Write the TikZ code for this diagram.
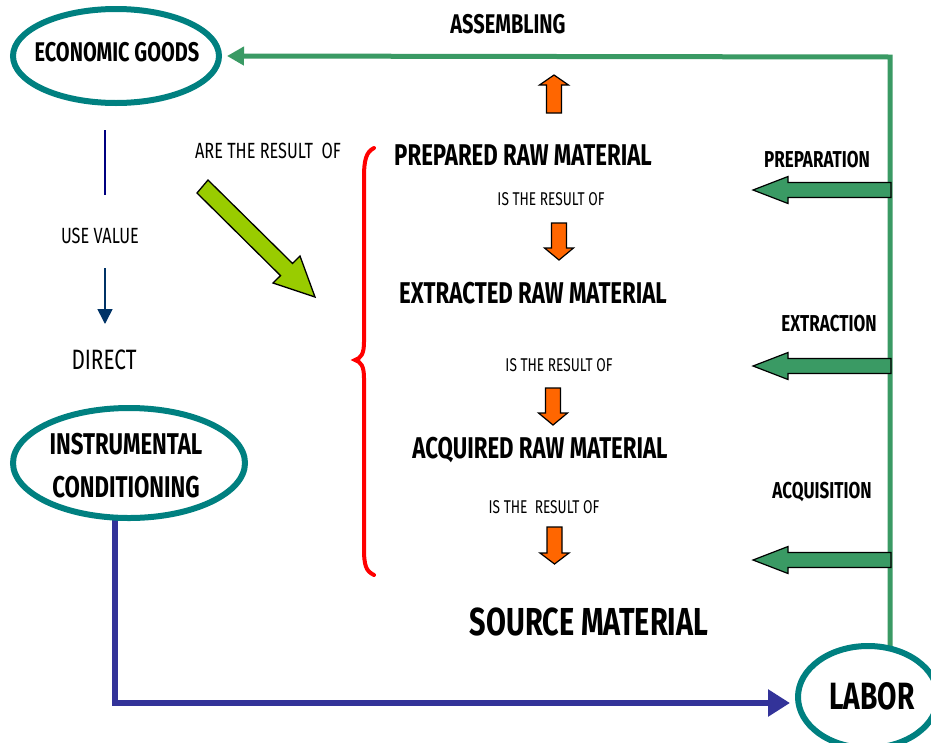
\documentclass[tikz,border=0pt]{standalone}
\usepackage{fontspec}
\setmainfont{Fira Sans}[FakeStretch=0.74]
\usetikzlibrary{arrows.meta,backgrounds,shapes.geometric}
\definecolor{tealc}{RGB}{0,128,128}
\definecolor{gline}{RGB}{58,154,100}
\definecolor{orangec}{RGB}{255,102,0}
\definecolor{ygreen}{RGB}{153,204,0}
\definecolor{bluec}{RGB}{51,51,153}
\definecolor{navyc}{RGB}{0,0,128}
\definecolor{darkbl}{RGB}{0,51,102}
\newcommand\vblock[4]{\draw[oarrow] (#1-7.5,#2) -- (#1+7.5,#2) -- (#1+7.5,#3) -- (#1+14.5,#3) -- (#1,#4) -- (#1-14.5,#3) -- (#1-7.5,#3) -- cycle;}
\newcommand\hblock[1]{\draw[garrow] (891,#1-7.5) -- (788,#1-7.5) -- (788,#1-13.5) -- (753,#1) -- (788,#1+13.5) -- (788,#1+7.5) -- (891,#1+7.5) -- cycle;}
\begin{document}
\begin{tikzpicture}[x=1pt,y=-1pt,
  bigt/.style={font=\bfseries\fontsize{30}{32}\selectfont, inner sep=0pt},
  midt/.style={font=\bfseries\fontsize{23}{25}\selectfont, inner sep=0pt},
  smallt/.style={font=\fontsize{18.5}{20}\selectfont, inner sep=0pt},
  regt/.style={font=\fontsize{22}{24}\selectfont, inner sep=0pt},
  ell/.style={ellipse, draw=tealc, line width=6pt, fill=white, inner sep=0pt},
  oarrow/.style={fill=orangec, draw=black, line width=1.2pt, line join=miter},
  garrow/.style={fill=gline, draw=black, line width=1.2pt, line join=miter},
  glinest/.style={draw=gline, line width=5pt},
  blinest/.style={draw=bluec, line width=6pt},
]
\clip (0,0) rectangle (931,742);

% ellipses
\node[ell, minimum width=206pt, minimum height=94pt] (econ) at (116,56) {};
\node[bigt, font=\bfseries\fontsize{27}{29}\selectfont] (econtxt) at (117,52) {ECONOMIC GOODS};
\node[ell, minimum width=232pt, minimum height=110pt] (instr) at (129,463) {};
\node[bigt] (instr1) at (126,444) {INSTRUMENTAL};
\node[bigt] (instr2) at (126,487) {CONDITIONING};
\node[ell, minimum width=140pt, minimum height=102pt] (labor) at (868,697) {};
\node[bigt, font=\bfseries\fontsize{38}{40}\selectfont] (labortxt) at (872,696) {LABOR};

% connectors behind
\coordinate (gtop) at (890,57);
\coordinate (gbot) at (890,660);
\coordinate (bstart) at (115,505);
\coordinate (btip) at (790,703);
\begin{scope}[on background layer]
\draw[glinest, -{Triangle[length=17pt,width=18pt]}] (gbot) -- (gtop) -- ([xshift=5pt]econ.east);
\draw[blinest, -{Triangle[length=22pt,width=26pt]}] (bstart) |- (btip);
\end{scope}

% top
\node[bigt, font=\bfseries\fontsize{27}{29}\selectfont] (assem) at (508,24) {ASSEMBLING};
\vblock{554}{113}{85}{75}

% left column
\coordinate (nv1) at (105,130);
\coordinate (nv2) at (105,195);
\draw[navyc, line width=2pt] (nv1) -- (nv2);
\node[regt] (usev) at (100,236) {USE VALUE};
\coordinate (nv3) at (105,268);
\coordinate (nv4) at (105,324);
\draw[darkbl, line width=1.6pt, -{Triangle[length=15pt,width=15pt]}] (nv3) -- (nv4);
\node[font=\fontsize{28}{30}\selectfont, inner sep=0pt] (direct) at (104,360) {DIRECT};

% are the result of
\node[regt] (arer) at (268,151) {ARE THE RESULT~ OF};
\draw[fill=ygreen, draw=black, line width=1.3pt, line join=miter]
  (197,193) -- (280.5,275.6) -- (273,283) -- (315,297) -- (300,256) -- (292.5,263.4) -- (208,180) -- cycle;

% red brace
\draw[red, line width=4pt, line cap=round]
  (374,148) .. controls (366,152) and (364,160) .. (364,178) -- (364,342)
  .. controls (364,354) and (361,358) .. (355,360)
  .. controls (361,362) and (364,366) .. (364,378) -- (364,548)
  .. controls (364,566) and (366,571) .. (374,575);

% center column
\node[bigt] (prep) at (523,155) {PREPARED RAW MATERIAL};
\node[smallt] (r1) at (551,199) {IS THE RESULT OF};
\vblock{559}{223}{248}{260}
\node[bigt] (extr) at (533,293) {EXTRACTED RAW MATERIAL};
\node[smallt] (r2) at (559,365) {IS THE RESULT OF};
\vblock{553}{388}{413}{425}
\node[bigt] (acq) at (540,450) {ACQUIRED RAW MATERIAL};
\node[smallt] (r3) at (544,507) {IS THE~ RESULT OF};
\vblock{554.5}{527}{553}{564}
\node[bigt, font=\bfseries\fontsize{39}{41}\selectfont] (src) at (589,622) {SOURCE MATERIAL};

% right column
\node[midt] (prepl) at (817,160) {PREPARATION};
\hblock{190}
\node[midt] (extrl) at (829,324) {EXTRACTION};
\hblock{366}
\node[midt] (acql) at (822,492) {ACQUISITION};
\hblock{560}
\end{tikzpicture}
\end{document}
